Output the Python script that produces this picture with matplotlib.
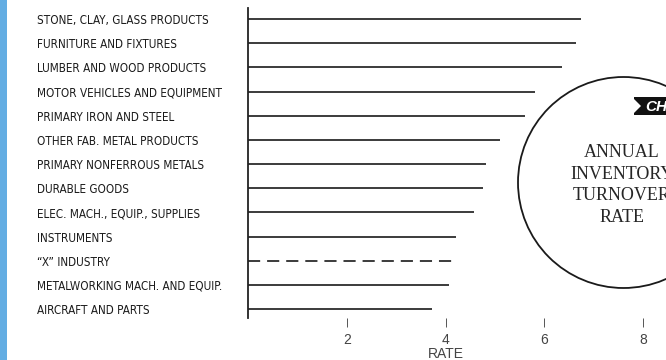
import matplotlib
matplotlib.use("Agg")
import matplotlib.pyplot as plt
from matplotlib import font_manager
from matplotlib.patches import Circle, Rectangle, Polygon

# Industry inventory turnover rates (times per year)
industries = [
    "STONE, CLAY, GLASS PRODUCTS",
    "FURNITURE AND FIXTURES",
    "LUMBER AND WOOD PRODUCTS",
    "MOTOR VEHICLES AND EQUIPMENT",
    "PRIMARY IRON AND STEEL",
    "OTHER FAB. METAL PRODUCTS",
    "PRIMARY NONFERROUS METALS",
    "DURABLE GOODS",
    "ELEC. MACH., EQUIP., SUPPLIES",
    "INSTRUMENTS",
    "\u201cX\u201d INDUSTRY",
    "METALWORKING MACH. AND EQUIP.",
    "AIRCRAFT AND PARTS",
]
rates = [6.75, 6.63, 6.36, 5.81, 5.60, 5.10, 4.81, 4.76, 4.57, 4.22, 4.14, 4.07, 3.73]
highlight = "\u201cX\u201d INDUSTRY"
rate_ticks = [2, 4, 6, 8]
title_lines = ["ANNUAL", "INVENTORY", "TURNOVER", "RATE"]

# narrow regular sans face for the category labels
narrow = None
for f in font_manager.fontManager.ttflist:
    tag = (f.name + " " + str(f.stretch)).lower()
    if ("narrow" in tag or "condensed" in tag) and f.style == "normal" \
            and f.weight in (400, "normal", "regular", "book") \
            and "serif" not in f.name.lower() and "mono" not in f.name.lower():
        narrow = f
        break
if narrow is not None:
    label_prop = font_manager.FontProperties(fname=narrow.fname, size=8.4)
else:
    label_prop = font_manager.FontProperties(family="Liberation Sans", size=7.2)

W, H, DPI = 666, 360, 100
fig = plt.figure(figsize=(W / DPI, H / DPI), dpi=DPI, facecolor="white")

# plot area: rate axis runs from x=0 at the vertical rule
ax = fig.add_axes([248 / W, 1 - 318 / H, (W - 248) / W, 310 / H])
ax.set_facecolor("none")
ax.set_xlim(0, (W - 248) / 49.4)
ax.set_ylim(12.37, -0.455)

ink = "#232323"
for i, (name, val) in enumerate(zip(industries, rates)):
    if name == highlight:
        ax.hlines(i, 0, val, colors=ink, linewidth=1.25, linestyles=(0, (7, 4)))
    else:
        ax.hlines(i, 0, val, colors=ink, linewidth=1.25)

for side in ("top", "right", "bottom"):
    ax.spines[side].set_visible(False)
ax.spines["left"].set_color(ink)
ax.spines["left"].set_linewidth(1.3)

ax.set_xticks(rate_ticks)
ax.set_xticklabels([str(t) for t in rate_ticks], fontsize=10,
                   family="Liberation Sans", color="#444444")
ax.tick_params(axis="x", direction="out", length=6.5, width=0.7,
               color="#555555", pad=4)

ax.set_yticks(range(len(industries)))
ax.set_yticklabels(industries, fontproperties=label_prop,
                   color="#1c1c1c", ha="left")
ax.tick_params(axis="y", length=0, pad=(248 - 37) * 72 / DPI)

ax.text(4, -0.115, "RATE", transform=ax.get_xaxis_transform(),
        ha="center", va="center", fontsize=10, family="Liberation Sans",
        color="#444444")

# left blue edge stripe
fig.add_artist(Rectangle((0, 0), 7 / W, 1, transform=fig.transFigure,
                         facecolor="#63ade3", edgecolor="none"))

# title roundel
px = fig.dpi_scale_trans
def inch(x, y):
    return (x / DPI, (H - y) / DPI)

fig.add_artist(Circle(inch(623.5, 182.5), 105.5 / DPI, transform=px,
                      facecolor="none", edgecolor="#1a1a1a", linewidth=1.3))

# chart badge
fig.add_artist(Rectangle(inch(634, 115), 40 / DPI, 18 / DPI, transform=px,
                         facecolor="#111111", edgecolor="none"))
fig.add_artist(Polygon([inch(634, 99), inch(641, 106), inch(634, 113)],
                       closed=True, transform=px, facecolor="white",
                       edgecolor="none"))
fig.text(645 / W, 1 - 106.5 / H, "CH", ha="left", va="center", fontsize=11,
         family="Liberation Sans", style="italic", weight="bold", color="white")

for k, line in enumerate(title_lines):
    fig.text(622 / W, 1 - (152 + 22 * k) / H, line, ha="center", va="center",
             fontsize=13, family="Liberation Serif", color="#262626")

fig.savefig("out.png", dpi=DPI, facecolor="white")
